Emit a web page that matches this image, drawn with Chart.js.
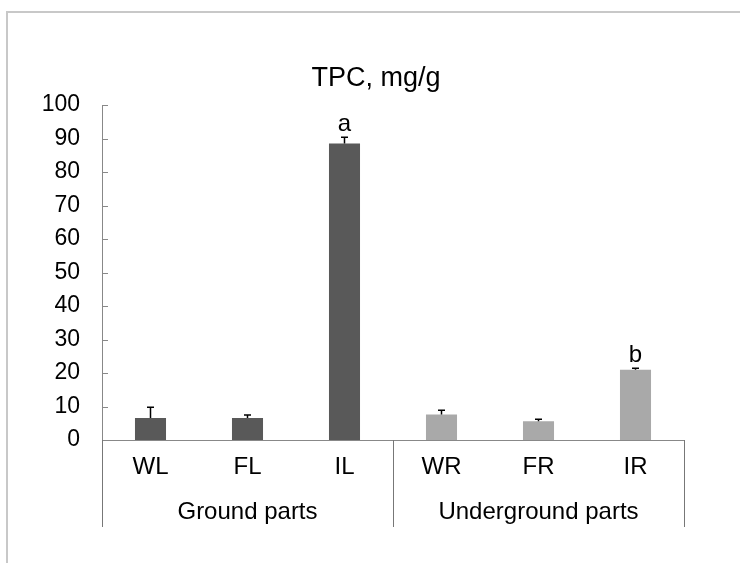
<!DOCTYPE html>
<html>
<head>
<meta charset="utf-8">
<script src="https://cdn.jsdelivr.net/npm/chart.js@4"></script>
<style>
  body { margin: 0; background: #fff; }
  #wrap { position: relative; width: 740px; height: 563px; }
  #frame { position: absolute; left: 6px; top: 11px; right: -10px; bottom: -10px;
           border-left: 2px solid #c8c8c8; border-top: 2px solid #c8c8c8; }
  canvas { position: absolute; left: 0; top: 0; }
</style>
</head>
<body>
<div id="wrap">
  <div id="frame"></div>
  <canvas id="myChart" width="740" height="563"></canvas>
</div>
<script>
const categories = ["WL", "FL", "IL", "WR", "FR", "IR"]
const tpcValues = [6.6, 6.6, 88.5, 7.6, 5.6, 21.0]
const tpcErrors = [3.2, 0.9, 1.9, 1.3, 0.6, 0.4]
const letters = ["", "", "a", "", "", "b"]
const groups = ["Ground parts", "Underground parts"]
const groupSizes = [3, 3]
const yTicks = [0, 10, 20, 30, 40, 50, 60, 70, 80, 90, 100]

const barColors = ["#595959", "#595959", "#595959", "#a9a9a9", "#a9a9a9", "#a9a9a9"]
const font = "'Liberation Sans', Arial, sans-serif"

// error bars, letters, y tick marks, category box, title
const extras = {
    id: "extras",
    afterDatasetsDraw(chart) {
        const ctx = chart.ctx
        const x = chart.scales.x
        const y = chart.scales.y
        const area = chart.chartArea
        ctx.save()

        // error bars (upper only)
        ctx.strokeStyle = "#000"
        ctx.lineWidth = 1.5
        tpcValues.forEach((v, i) => {
            const px = x.getPixelForValue(i)
            const top = y.getPixelForValue(v + tpcErrors[i])
            const base = y.getPixelForValue(v)
            ctx.beginPath()
            ctx.moveTo(px, base)
            ctx.lineTo(px, top)
            ctx.moveTo(px - 3.5, top)
            ctx.lineTo(px + 3.5, top)
            ctx.stroke()
        })

        // significance letters
        ctx.fillStyle = "#000"
        ctx.font = "24px " + font
        ctx.textAlign = "center"
        ctx.textBaseline = "alphabetic"
        letters.forEach((l, i) => {
            if (!l) return
            const px = x.getPixelForValue(i)
            ctx.fillText(l, px, y.getPixelForValue(tpcValues[i] + tpcErrors[i]) - 6)
        })

        // inside tick marks on y axis
        ctx.strokeStyle = "#888"
        ctx.lineWidth = 1
        yTicks.forEach(t => {
            const py = Math.round(y.getPixelForValue(t)) + 0.5
            ctx.beginPath()
            ctx.moveTo(area.left, py)
            ctx.lineTo(area.left + 6, py)
            ctx.stroke()
        })

        // category box dividers
        const boxBottom = area.bottom + 87
        let start = 0
        const edges = [area.left]
        groupSizes.forEach(n => {
            start += n
            edges.push(x.getPixelForValue(start - 0.5))
        })
        ctx.strokeStyle = "#777"
        edges.forEach(e => {
            const ex = Math.round(e) + 0.5
            ctx.beginPath()
            ctx.moveTo(ex, area.bottom)
            ctx.lineTo(ex, boxBottom)
            ctx.stroke()
        })

        // group labels
        ctx.fillStyle = "#000"
        ctx.font = "24px " + font
        ctx.textBaseline = "middle"
        groups.forEach((g, i) => {
            const cx = (edges[i] + edges[i + 1]) / 2
            ctx.fillText(g, cx, area.bottom + 72)
        })

        // title
        ctx.font = "27px " + font
        ctx.fillText("TPC, mg/g", 376, 79)
        ctx.restore()
    }
}

const ctx = document.getElementById("myChart").getContext("2d")
const chart = new Chart(ctx, {
    type: "bar",
    data: {
        labels: categories,
        datasets: [
            {
                data: tpcValues,
                backgroundColor: barColors,
                borderWidth: 0,
                barPercentage: 0.64,
                categoryPercentage: 0.5
            }
        ]
    },
    options: {
        responsive: false,
        animation: false,
        layout: { padding: { left: 0, right: 56, top: 105, bottom: 33 } },
        plugins: { legend: { display: false }, tooltip: { enabled: false }, title: { display: false } },
        scales: {
            x: {
                grid: { display: false },
                border: { display: true, color: "#888", width: 1 },
                ticks: { color: "#000", font: { family: font, size: 24 }, padding: 5 },
                afterFit: scale => { scale.height = 90 }
            },
            y: {
                min: 0,
                max: 100,
                grid: { display: false },
                border: { display: true, color: "#888", width: 1 },
                afterBuildTicks: scale => { scale.ticks = yTicks.map(v => ({ value: v })) },
                ticks: { color: "#000", font: { family: font, size: 23 }, padding: 14 },
                afterFit: scale => { scale.width = 102 }
            }
        }
    },
    plugins: [extras]
})
</script>
</body>
</html>
